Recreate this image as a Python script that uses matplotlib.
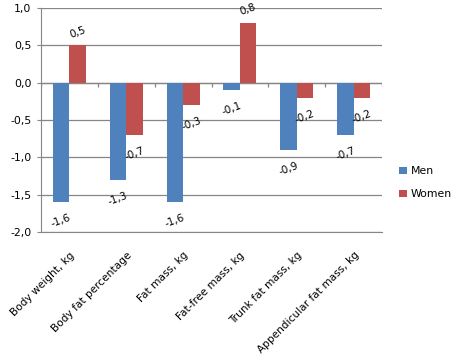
import numpy as np
import matplotlib
matplotlib.use('Agg')
import matplotlib.pyplot as plt

# ----- Data
categories = ['Body weight, kg', 'Body fat percentage', 'Fat mass, kg',
              'Fat-free mass, kg', 'Trunk fat mass, kg', 'Appendicular fat mass, kg']
men = [-1.6, -1.3, -1.6, -0.1, -0.9, -0.7]
women = [0.5, -0.7, -0.3, 0.8, -0.2, -0.2]
series_names = ['Men', 'Women']
y_ticks = [-2.0, -1.5, -1.0, -0.5, 0.0, 0.5, 1.0]

blue = '#4F81BD'
red = '#C0504D'
grid_gray = '#868686'


def fmt(v):
    return ('%.1f' % v).replace('.', ',')


plt.rcParams['font.family'] = ['DejaVu Sans']
fig = plt.figure(figsize=(4.62, 3.61), dpi=100)
ax = fig.add_axes([0.0887, 0.357, 0.827 - 0.0887, 0.978 - 0.357])

x = np.arange(len(categories))
w = 0.29
bars_m = ax.bar(x - w / 2, men, w, color=blue, label=series_names[0], zorder=3)
bars_w = ax.bar(x + w / 2, women, w, color=red, label=series_names[1], zorder=3)

# data labels
for bars, vals in [(bars_m, men), (bars_w, women)]:
    for b, v in zip(bars, vals):
        off = 9.5 if v > 0 else -13.5
        ax.annotate(fmt(v), (b.get_x() + b.get_width() / 2, v),
                    xytext=(0, off), textcoords='offset points',
                    ha='center', va='center', rotation=20, fontsize=7.5,
                    zorder=4, annotation_clip=False)

ax.set_xlim(-0.5, len(categories) - 0.5)
ax.set_ylim(y_ticks[0], y_ticks[-1])
ax.set_yticks(y_ticks)
ax.set_yticklabels([fmt(t) for t in y_ticks], fontsize=7.8)
ax.yaxis.grid(True, color=grid_gray, linewidth=0.9, zorder=0)

# zero axis with tick marks at category boundaries
ax.axhline(0, color=grid_gray, linewidth=0.9, zorder=2)
bounds = np.arange(-0.5, len(categories), 1.0)
ax.vlines(bounds, -0.055, 0, color=grid_gray, linewidth=0.9, zorder=2)

ax.set_xticks(x)
ax.set_xticklabels(categories, rotation=45, ha='right', rotation_mode='anchor', fontsize=7.6)
ax.tick_params(axis='x', length=0, pad=13)
ax.tick_params(axis='y', length=3, color=grid_gray, pad=4)

for s in ['top', 'right']:
    ax.spines[s].set_visible(False)
ax.spines['left'].set_color(grid_gray)
ax.spines['bottom'].set_color(grid_gray)

ax.legend(loc='center left', bbox_to_anchor=(1.02, 0.22), frameon=False,
          fontsize=7.8, handlelength=0.75, handleheight=0.75, labelspacing=1.2,
          handletextpad=0.35)

fig.savefig('out.png', dpi=100)
